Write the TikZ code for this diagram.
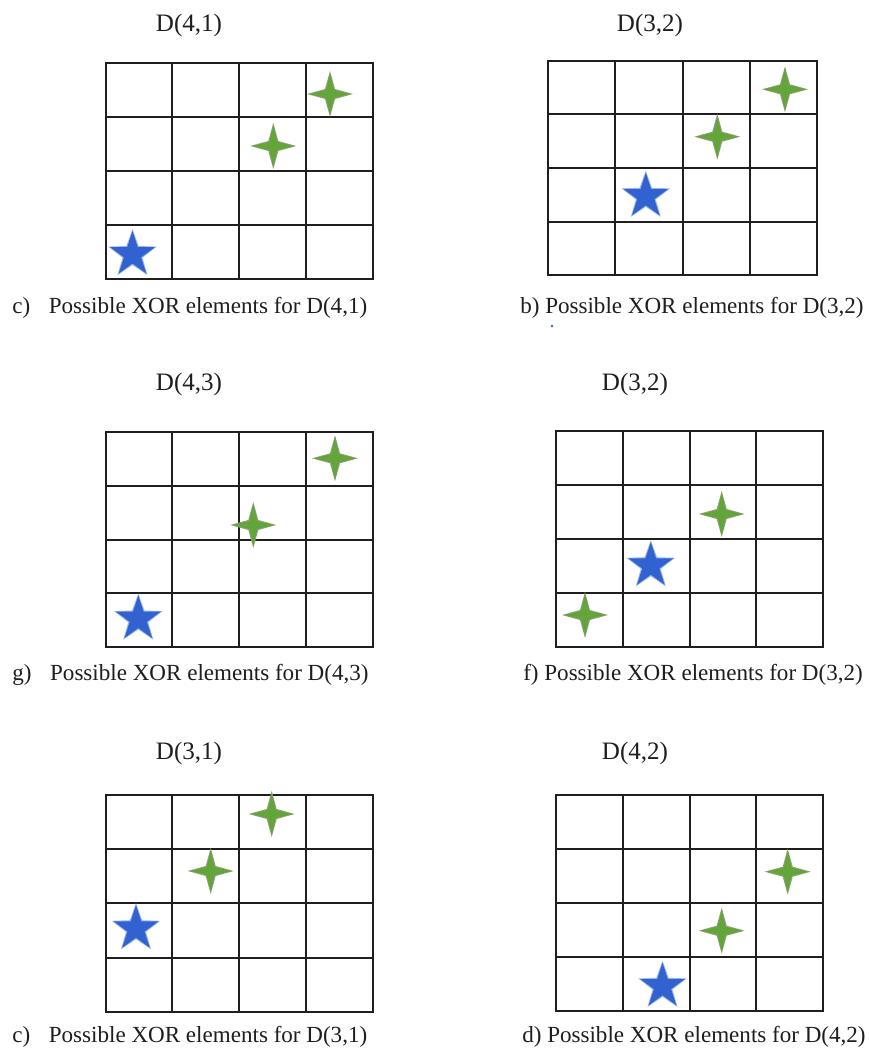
\documentclass[tikz,border=0pt]{standalone}
\usepackage{fontspec}
\setmainfont{Liberation Serif}
\definecolor{starblue}{RGB}{50,98,208}
\definecolor{bluehalo}{RGB}{150,180,240}
\definecolor{stargreen}{RGB}{100,165,58}
\definecolor{greenedge}{RGB}{95,120,70}
\definecolor{txt}{RGB}{30,30,30}
\newcommand\xgrid[4]{%
  \draw[gridline] (#1,#2) rectangle (#3,#4);
  \foreach \k in {1,2,3} {
    \draw[gridline] ({#1+\k*(#3-#1)/4},#2) -- ({#1+\k*(#3-#1)/4},#4);
    \draw[gridline] (#1,{#2+\k*(#4-#2)/4}) -- (#3,{#2+\k*(#4-#2)/4});
  }}
\begin{document}
\begin{tikzpicture}[x=0.75pt,y=-0.75pt,
  gridline/.style={line width=1.5pt, black!88},
  title/.style={anchor=base, inner sep=0pt, text=txt, font=\fontsize{18.8}{22}\selectfont},
  caption/.style={anchor=base west, inner sep=0pt, text=txt, font=\fontsize{17.3}{20}\selectfont},
  bluestar/.pic={
    \fill[bluehalo] (-90:25.5) -- (-54:10.5) -- (-18:25.5) -- (18:10.5) -- (54:25.5) -- (90:10.5) -- (126:25.5) -- (162:10.5) -- (198:25.5) -- (234:10.5) -- cycle;
    \fill[starblue] (-90:23.5) -- (-54:9) -- (-18:23.5) -- (18:9) -- (54:23.5) -- (90:9) -- (126:23.5) -- (162:9) -- (198:23.5) -- (234:9) -- cycle;
  },
  greenstar/.pic={
    \fill[greenedge!70!white] (23,0) -- (5,-5) -- (0,-23) -- (-5,-5) -- (-23,0) -- (-5,5) -- (0,23) -- (5,5) -- cycle;
    \fill[stargreen] (21,0) -- (4,-4) -- (0,-21) -- (-4,-4) -- (-21,0) -- (-4,4) -- (0,21) -- (4,4) -- cycle;
  }
]
\useasboundingbox (0,0) rectangle (868,1053);
\fill[white] (0,0) rectangle (868,1053);

% ---- top left: D(4,1)
\node[title] (t1) at (189,31.5) {D(4,1)};
\xgrid{105.7}{62.7}{372.7}{278.7}
\pic at (132.5,254.5) {bluestar};
\pic at (330,94) {greenstar};
\pic at (273.3,146) {greenstar};
\node[caption] (c1) at (12,313) {c)\hspace{14pt}Possible XOR elements for D(4,1)};

% ---- top right: D(3,2)
\node[title] (t2) at (650,31.5) {D(3,2)};
\xgrid{548.3}{60.7}{816.7}{275.3}
\pic at (645.8,196.3) {bluestar};
\pic at (785,89.3) {greenstar};
\pic at (717.3,136.7) {greenstar};
\node[caption] (c2) at (520,313) {b) Possible XOR elements for D(3,2)};
\fill[starblue] (552,326) circle (1.4);

% ---- middle left: D(4,3)
\node[title] (t3) at (189,390.5) {D(4,3)};
\xgrid{105.7}{431.7}{372.7}{647.3}
\pic at (138.3,619) {bluestar};
\pic at (335,458.3) {greenstar};
\pic at (253.3,525) {greenstar};
\node[caption] (c3) at (12,680) {g)\hspace{14pt}Possible XOR elements for D(4,3)};

% ---- middle right: D(3,2)
\node[title] (t4) at (635,390.5) {D(3,2)};
\xgrid{556}{431}{823.3}{647.3}
\pic at (650.8,565.7) {bluestar};
\pic at (721.7,514) {greenstar};
\pic at (585,615) {greenstar};
\node[caption] (c4) at (523,680) {f) Possible XOR elements for D(3,2)};

% ---- bottom left: D(3,1)
\node[title] (t5) at (189,759) {D(3,1)};
\xgrid{105.7}{795}{372.7}{1011.7}
\pic at (136,928.7) {bluestar};
\pic at (271.7,814) {greenstar};
\pic at (210.7,871) {greenstar};
\node[caption] (c5) at (12,1042) {c)\hspace{14pt}Possible XOR elements for D(3,1)};

% ---- bottom right: D(4,2)
\node[title] (t6) at (635,759) {D(4,2)};
\xgrid{556}{795}{823.3}{1011}
\pic at (662.5,986.3) {bluestar};
\pic at (787.7,871.7) {greenstar};
\pic at (721.7,930.7) {greenstar};
\node[caption] (c6) at (522,1042) {d) Possible XOR elements for D(4,2)};
\end{tikzpicture}
\end{document}
